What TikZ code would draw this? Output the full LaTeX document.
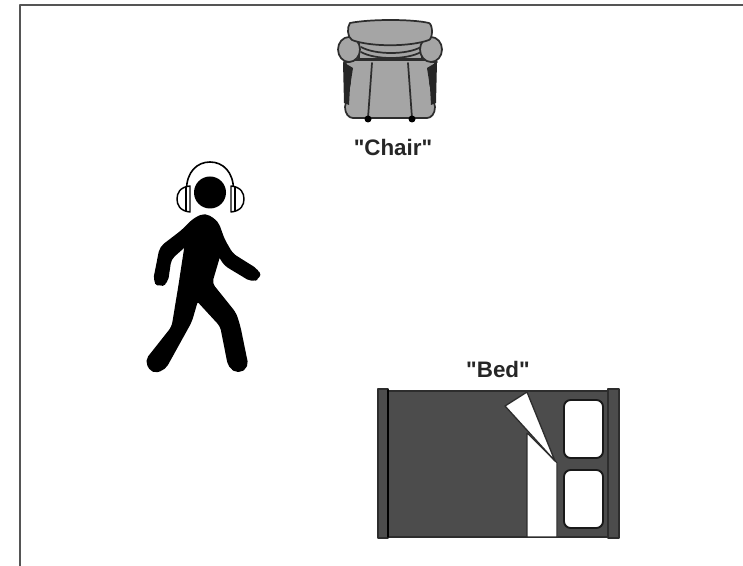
\documentclass[tikz,border=0pt]{standalone}
\usepackage{fontspec}
\newfontfamily\labelfont{Liberation Sans}
\definecolor{bedDark}{RGB}{76,76,76}
\definecolor{chairGray}{RGB}{165,165,165}
\definecolor{lineDark}{RGB}{45,45,45}
\definecolor{frameGray}{RGB}{85,85,85}
\tikzset{frameline/.style={draw=frameGray,line width=2pt},
 outline/.style={draw=lineDark,line width=1.3pt},
 caption/.style={font=\labelfont\bfseries\fontsize{16.8}{20}\selectfont,text=black!85,inner sep=0pt},
 every picture/.style={line join=round,line cap=round}}

\begin{document}
\begin{tikzpicture}[x=.75pt,y=-.75pt]
\useasboundingbox (0,0) rectangle (743,566);
\draw[frameline] (20,566) -- (20,5) -- (743,5);
% chair
\path[fill=chairGray,outline] (345,60) -- (350,83) -- (345,107) .. controls (345,114) and (349,118) .. (353,118) -- (427,118) .. controls (431,118) and (435,114) .. (435,107) -- (430,83) -- (436,60) -- cycle;
\path[fill=black!85] (343,62) -- (353,68) -- (350,87) -- (349,105) -- (344,103) -- cycle;
\path[fill=black!85] (437,62) -- (427,68) -- (430,87) -- (431,105) -- (436,103) -- cycle;
\path[fill=chairGray,outline] (359,42) rectangle (422,60);
\path[draw=lineDark,line width=1.3pt] (361,47) .. controls (375,55) and (407,55) .. (421,47);
\path[draw=lineDark,line width=1.3pt] (361,52) .. controls (375,60) and (407,60) .. (421,52);
\draw[outline] (344,62) .. controls (352,63) and (356,58) .. (360,59) -- (421,59) .. controls (425,58) and (429,63) .. (437,62);
\path[fill=chairGray,outline] (349,49.5) ellipse (11 and 12.5);
\path[fill=chairGray,outline] (431,49.5) ellipse (11 and 12.5);
\path[fill=chairGray,outline] (350,23) .. controls (370,19) and (412,19) .. (429,23) .. controls (433,25) and (433,38) .. (429,40) .. controls (410,47) and (370,47) .. (352,40) .. controls (347,37) and (347,27) .. (350,23) -- cycle;
\draw[outline] (372,63) -- (368,118);
\draw[outline] (408,63) -- (412,118);
\path[fill=black] (368,119) circle (3.5);
\path[fill=black] (412,119) circle (3.5);
\node[caption] (chairlabel) at (393,147) {"Chair"};
% person
\path[draw=black,line width=1.2pt] (186.5,190) .. controls (186.5,172) and (197,162) .. (210,162) .. controls (223,162) and (233.5,172) .. (233.5,190);
\path[fill=white,draw=black,line width=1.1pt] (190,186) .. controls (180,187) and (177,193) .. (177,199) .. controls (177,205) and (180,211) .. (190,212) -- cycle;
\path[fill=white,draw=black,line width=1.1pt] (231,186) .. controls (241,187) and (244,193) .. (244,199) .. controls (244,205) and (241,211) .. (231,212) -- cycle;
\path[draw=black,line width=1pt] (186,187) -- (186,211);
\path[draw=black,line width=1pt] (235,187) -- (235,211);
\path[fill=black] (210,192.5) circle (16);
\path[fill=black,draw=black,line width=3pt,rounded corners=3.5pt] (205,215) -- (216.5,222.5) -- (223,240.5) -- (231.5,255) -- (257,271) -- (259,277) -- (252,280) -- (225.5,264) -- (219,253) -- (210,283.5) -- (234.5,314) -- (238.5,327) -- (246.5,366) -- (238.3,371.5) -- (230,366) -- (222,325.5) -- (196.7,298) -- (190,321) -- (164,368) -- (153,371.5) -- (147,361) -- (173.5,327.5) -- (180,288.3) -- (187,242.7) -- (169.5,258.3) -- (166,282) -- (160,285) -- (155,281) -- (161.5,248) -- (183,231.5) -- (194.5,220) -- cycle;
% bed
\path[fill=bedDark,draw=lineDark,line width=.8pt] (388,391) rectangle (608,537);
\path[fill=bedDark,draw=lineDark,line width=.8pt] (378,389) rectangle (388,538);
\path[fill=bedDark,draw=lineDark,line width=.8pt] (608,389) rectangle (619,538);
\draw[draw=black,line width=1.2pt] (388,390) -- (388,537);
\path[fill=white,draw=lineDark,line width=.8pt] (527,433) -- (527,537) -- (557,537) -- (557,463) -- cycle;
\path[fill=white,draw=lineDark,line width=1pt] (505,406) -- (527,392) -- (555,461) -- cycle;
\path[fill=white,draw=black!90,line width=1.4pt,rounded corners=5pt] (564,400) rectangle (603,458);
\path[fill=white,draw=black!90,line width=1.4pt,rounded corners=5pt] (564,470) rectangle (603,528);
\node[caption] (bedlabel) at (498,369) {"Bed"};
\end{tikzpicture}
\end{document}
